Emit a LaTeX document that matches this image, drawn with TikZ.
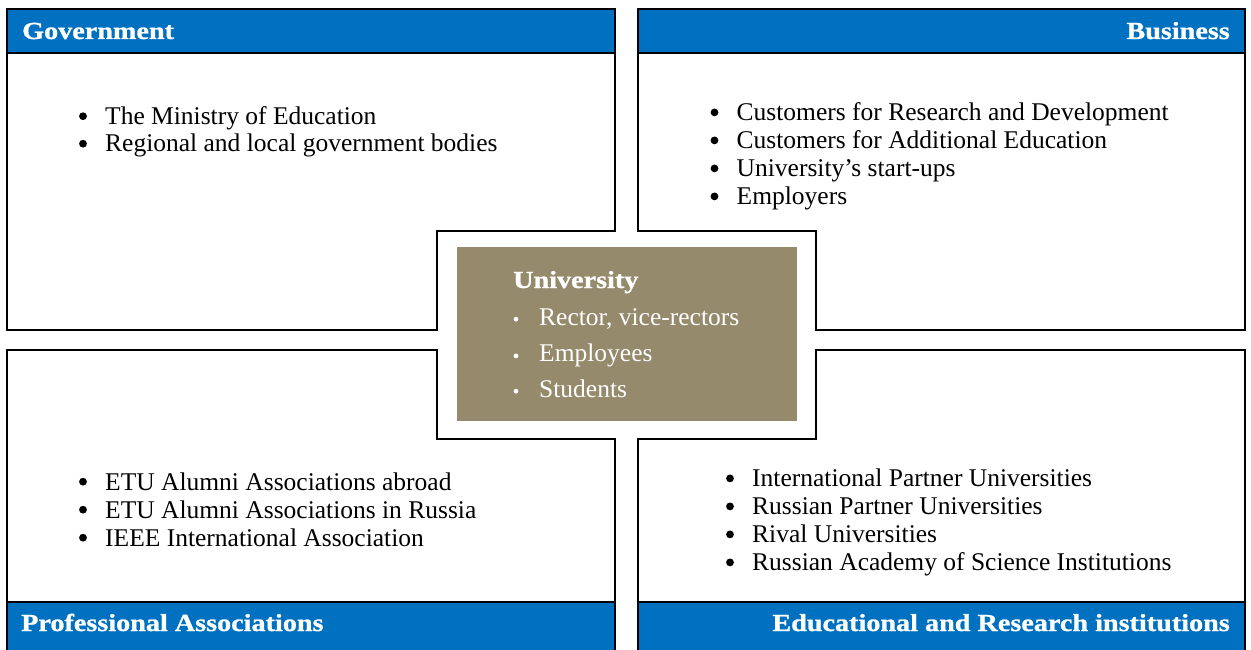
\documentclass[tikz,border=0pt]{standalone}
\usepackage{fontspec}
\setmainfont{Liberation Serif}[BoldFeatures={FakeStretch=1.15,FakeBold=1}]

\definecolor{hdrblue}{HTML}{0070C0}
\definecolor{unibrown}{HTML}{968A6C}

\tikzset{
  panel/.style={draw=black, line width=1.4pt, fill=white},
  hdrbar/.style={draw=black, line width=1.4pt, fill=hdrblue},
  hdrtext/.style={inner sep=0pt, text=white, font=\fontsize{24.5}{28}\selectfont\bfseries},
  item/.style={inner sep=0pt, anchor=base west, font=\fontsize{25.5}{28}\selectfont},
  uitem/.style={item, text=white},
}
% round bullet hung to the left of an item node
\newcommand\itemdot[1]{\fill[black] (#1.base west) ++(-22,-8.3) circle (3.9);}
\newcommand\unidot[1]{\fill[white] (#1.base west) ++(-23,-5.8) circle (2.4);}

\begin{document}
\begin{tikzpicture}[x=1pt, y=-1pt]
\clip (0,0) rectangle (1251,650);
\fill[white] (0,0) rectangle (1251,650);

% ---- Government (top left)
\draw[panel] (7,9) -- (615,9) -- (615,231) -- (437,231) -- (437,330) -- (7,330) -- cycle;
\draw[hdrbar] (7,9) rectangle (615,53);
\node[hdrtext, anchor=base west] (gov) at (22,39) {Government};
\node[item] (gov1) at (105,124.5) {The Ministry of Education};
\node[item] (gov2) at (105,152) {Regional and local government bodies};
\itemdot{gov1} \itemdot{gov2}

% ---- Business (top right)
\draw[panel] (638,9) -- (1245,9) -- (1245,330) -- (816,330) -- (816,231) -- (638,231) -- cycle;
\draw[hdrbar] (638,9) rectangle (1245,53);
\node[hdrtext, anchor=base east] (bus) at (1230,39) {Business};
\foreach \t [count=\i] in {Customers for Research and Development,
    Customers for Additional Education, University’s start-ups, Employers}
  {\node[item] (bus\i) at (736.5,{120.7+28*(\i-1)}) {\t}; \itemdot{bus\i}}

% ---- Professional Associations (bottom left)
\draw[panel] (7,350) -- (437,350) -- (437,439) -- (615,439) -- (615,660) -- (7,660) -- cycle;
\draw[hdrbar] (7,602) rectangle (615,660);
\node[hdrtext, anchor=base west] (prof) at (21,631) {Professional Associations};
\foreach \t [count=\i] in {ETU Alumni Associations abroad,
    ETU Alumni Associations in Russia, IEEE International Association}
  {\node[item] (prof\i) at (105,{490+28*(\i-1)}) {\t}; \itemdot{prof\i}}

% ---- Educational and Research institutions (bottom right)
\draw[panel] (638,439) -- (816,439) -- (816,350) -- (1245,350) -- (1245,660) -- (638,660) -- cycle;
\draw[hdrbar] (638,602) rectangle (1245,660);
\node[hdrtext, anchor=base east] (edu) at (1230,631) {Educational and Research institutions};
\foreach \t [count=\i] in {International Partner Universities,
    Russian Partner Universities, Rival Universities,
    Russian Academy of Science Institutions}
  {\node[item] (edu\i) at (752,{486.7+28*(\i-1)}) {\t}; \itemdot{edu\i}}

% ---- University (centre)
\fill[unibrown] (457,247) rectangle (797,421);
\node[hdrtext, anchor=base west] (uni) at (513,288) {University};
\node[uitem] (uni1) at (539,325) {Rector, vice-rectors};
\node[uitem] (uni2) at (539,361.7) {Employees};
\node[uitem] (uni3) at (539,397) {Students};
\unidot{uni1} \unidot{uni2} \unidot{uni3}
\end{tikzpicture}
\end{document}
